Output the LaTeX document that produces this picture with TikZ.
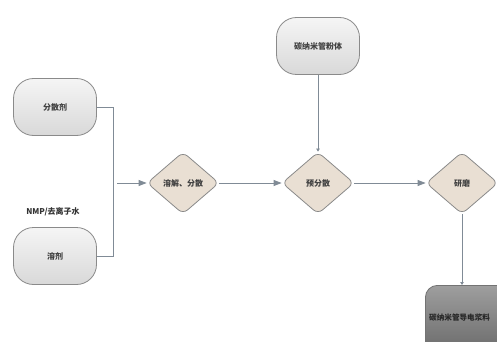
\documentclass[tikz,border=0pt]{standalone}
\usepackage{fontspec}
\newfontfamily\cjk{Noto Sans CJK SC}
\usetikzlibrary{shapes.geometric,arrows.meta}
\definecolor{edgec}{HTML}{808B96}
\definecolor{boxline}{HTML}{8A8A8A}
\definecolor{dia}{HTML}{E9DFD3}
\tikzset{
  x=1pt,y=-1pt,
  startbox/.style={rectangle,rounded corners=20pt,draw=boxline,line width=0.8pt,
    top color=gray!8,bottom color=gray!30,minimum width=83pt,minimum height=57pt,
    font=\cjk\fontsize{8}{9}\selectfont\bfseries,text=black!75},
  dbox/.style={diamond,draw=boxline,line width=0.8pt,fill=dia,rounded corners=6pt,
    minimum width=72pt,minimum height=62pt,aspect=1.16,inner sep=0pt,
    font=\cjk\fontsize{8}{9}\selectfont\bfseries,text=black!75},
  conn/.style={draw=edgec,line width=0.9pt},
  arr/.style={conn,-{Triangle[length=8pt,width=6pt]}},
  dotarr/.style={conn,-{Triangle[length=3pt,width=3.5pt]}},
  lbl/.style={font=\cjk\fontsize{8}{9}\selectfont\bfseries,text=black!80},
}
\begin{document}
\begin{tikzpicture}
\useasboundingbox (0,0) rectangle (497,342);
\clip (0,0) rectangle (497,342);
\fill[white] (0,0) rectangle (497,342);
\node[startbox] (fs) at (55,107) {分散剂};
\node[startbox] (rj) at (55,256) {溶剂};
\node[lbl] (nmp) at (53,212) {NMP/去离子水};
\node[startbox] (cnt) at (318,46) {碳纳米管粉体};
\node[dbox] (d1) at (183,183) {溶解、分散};
\node[dbox] (d2) at (318,183) {预分散};
\node[dbox] (d3) at (462,183) {研磨};
\node[rectangle,rounded corners=12pt,draw=black!55,line width=0.8pt,
  top color=black!38,bottom color=black!62,minimum width=100pt,minimum height=80pt,
  anchor=north west] (out) at (425,285) {};
\node[anchor=west,font=\cjk\fontsize{7.6}{9}\selectfont\bfseries,text=black!85,inner sep=0pt] (outt) at (429,318) {碳纳米管导电浆料};
\coordinate (j) at (113,183);
\coordinate (ja) at (117,183);
\draw[conn] (fs.east) -| (j);
\draw[conn] (rj.east) -| (j);
\draw[arr] (ja) -- (d1.west);
\draw[arr] (d1.east) -- (d2.west);
\draw[arr] (d2.east) -- (d3.west);
\draw[dotarr] (cnt.south) -- (d2.north);
\draw[dotarr] (d3.south) -- (out.north west -| d3.south);
\end{tikzpicture}
\end{document}
